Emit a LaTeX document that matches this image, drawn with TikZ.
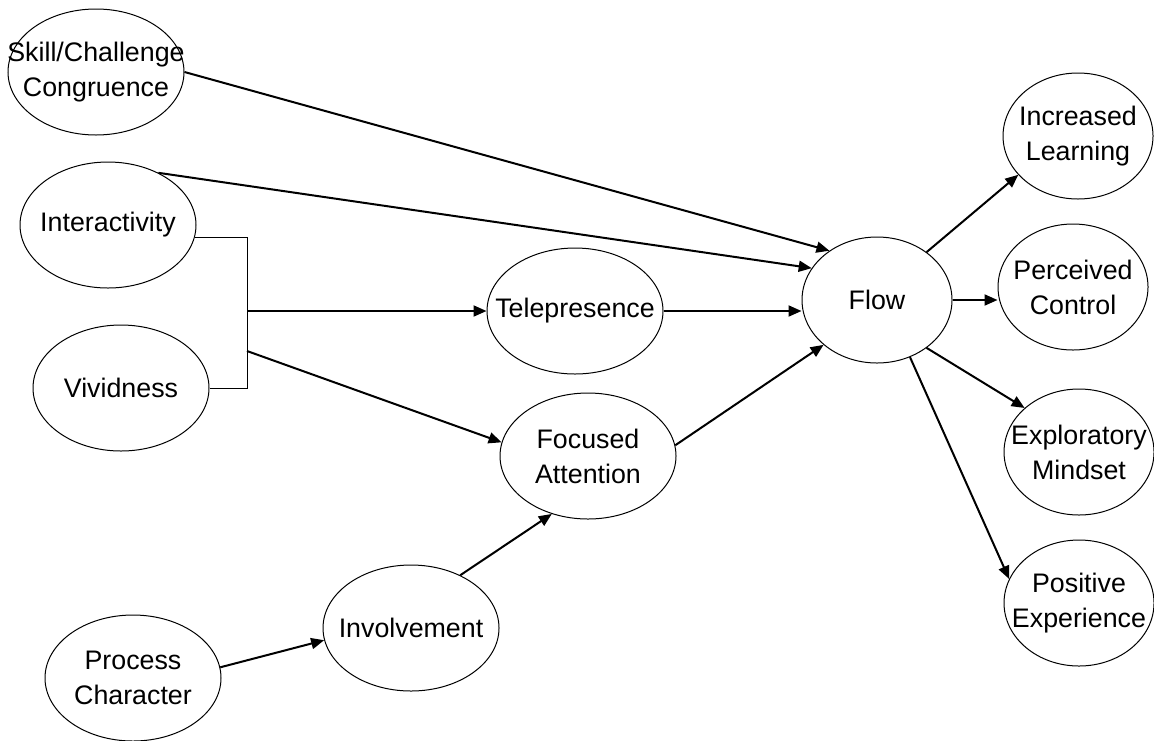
\documentclass[tikz,border=0pt]{standalone}
\usepackage{fontspec}
\setmainfont{Liberation Sans}
\usetikzlibrary{arrows.meta,shapes.geometric}
\tikzset{
    %Define standard arrow tip
    >={Triangle[length=6.5pt,width=5.5pt]},
    %Define style for ellipses
    factor/.style={
           ellipse,
           draw=black, line width=0.5pt,
           minimum width=88pt,
           minimum height=63pt,
           inner sep=0pt},
    outcome/.style={
           factor,
           minimum width=75pt},
    caption/.style={
           align=center,
           inner sep=0pt,
           font=\fontsize{13.4}{17.5}\selectfont},
    % Define arrow style
    pil/.style={
           ->,
           line width=1pt}
}

\begin{document}
\begin{tikzpicture}[x=0.5pt,y=-0.5pt]
\useasboundingbox (0,0) rectangle (1154,740);
 %nodes
\node[factor, label={[caption]center:Skill/Challenge\\Congruence}](skill) at (96,72) {};
\node[factor, label={[caption]center:Interactivity}](inter) at (108,225) {};
\node[factor, label={[caption]center:Vividness}](vivid) at (121,388) {};
\node[factor, label={[caption]center:Process\\Character}](proc) at (133,678) {};
\node[factor, label={[caption]center:Involvement}](invol) at (411,628) {};
\node[factor, label={[caption]center:Focused\\Attention}](focus) at (588,456) {};
\node[factor, label={[caption]center:Telepresence}](tele) at (575,311) {};
\node[outcome, label={[caption]center:Flow}](flow) at (877,300) {};
\node[outcome, label={[caption]center:Increased\\Learning}](learn) at (1078,136) {};
\node[outcome, label={[caption]center:Perceived\\Control}](percv) at (1073,287) {};
\node[outcome, label={[caption]center:Exploratory\\Mindset}](explor) at (1079,452) {};
\node[outcome, label={[caption]center:Positive\\Experience}](posit) at (1079,603) {};
 %bracket
\coordinate (jmid) at (247,311);
\coordinate (jlow) at (247,351);
\coordinate (jbot) at (247,388);
\draw[line width=0.5pt] (inter.352) -| (jbot) -- (vivid.east);
 %arrows
\path[pil]
   (skill.0) edge (flow.134)
   (inter.46) edge (flow.154)
   (jmid) edge (tele)
   (jlow) edge (focus.171)
   (tele.east) edge (tele.east -| flow.west)
   (focus.7) edge (flow.220)
   (proc.7) edge (invol.188)
   (invol.47) edge (focus.238)
   (flow.44) edge (learn.213)
   (flow.east) edge (flow.east -| percv.west)
   (flow.316) edge (explor.141)
   (flow.300) edge (posit.161);
\end{tikzpicture}
\end{document}
